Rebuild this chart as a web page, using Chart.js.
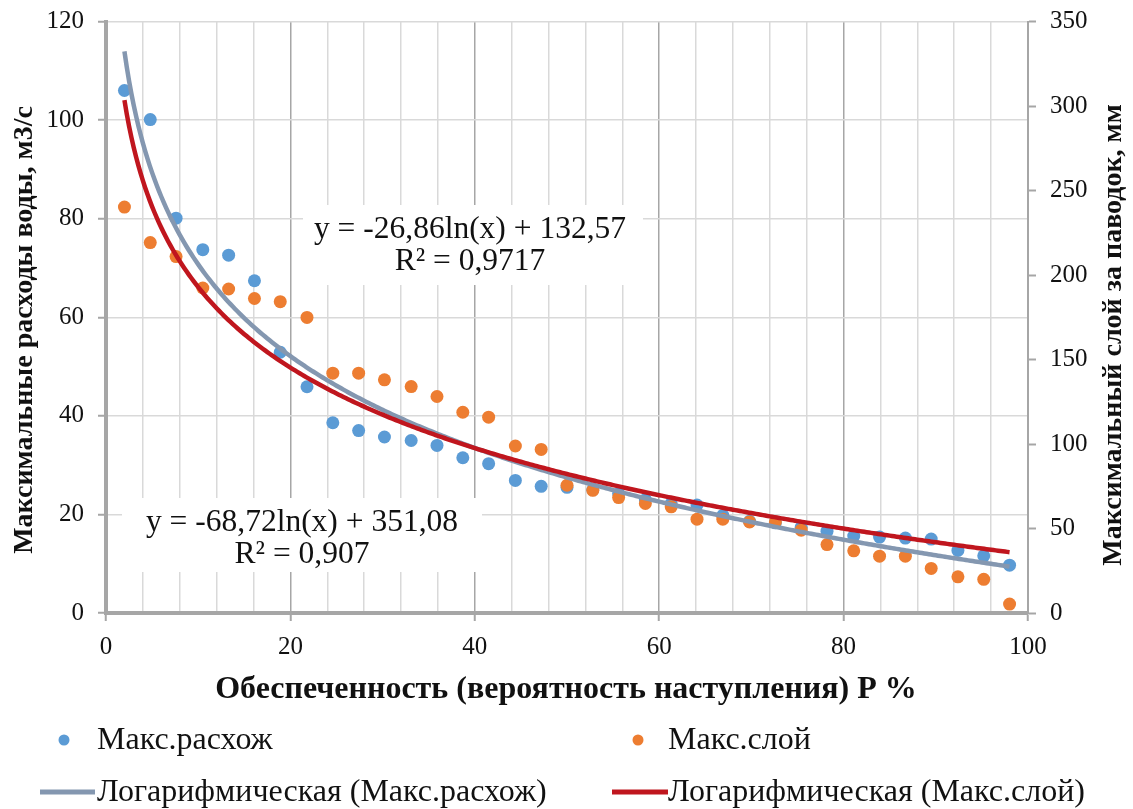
<!DOCTYPE html>
<html>
<head>
<meta charset="utf-8">
<script src="https://cdn.jsdelivr.net/npm/chart.js@4.4.1/dist/chart.umd.min.js"></script>
<style>
  html, body { margin: 0; padding: 0; background: #fff; }
  #wrap { width: 1133px; height: 809px; position: relative; }
</style>
</head>
<body>
<div id="wrap"><canvas id="chart"></canvas></div>
<script>
// обеспеченность P, %
const pValues = [2.0, 4.8, 7.6, 10.5, 13.3, 16.1, 18.9, 21.8, 24.6, 27.4, 30.2, 33.1, 35.9, 38.7, 41.5, 44.4, 47.2, 50.0,
    52.8, 55.6, 58.5, 61.3, 64.1, 66.9, 69.8, 72.6, 75.4, 78.2, 81.1, 83.9, 86.7, 89.5, 92.4, 95.2, 98.0];
// максимальные расходы, м3/с (левая ось)
const maxFlow = [106.0, 100.1, 80.1, 73.7, 72.6, 67.4, 52.9, 45.9, 38.6, 37.0, 35.7, 35.0, 34.0, 31.5, 30.3, 26.9, 25.7, 25.5,
    25.0, 24.2, 23.0, 22.2, 21.9, 19.8, 18.6, 18.3, 17.4, 16.6, 15.6, 15.4, 15.2, 15.0, 12.7, 11.6, 9.7];
// максимальный слой, мм (правая ось)
const maxLayer = [240.2, 219.2, 210.9, 192.3, 191.7, 186.1, 184.2, 174.9, 141.9, 141.9, 138.0, 134.0, 128.1, 118.8, 115.9, 98.8, 96.8, 75.6,
    72.6, 68.3, 64.8, 62.8, 55.5, 55.5, 53.9, 53.9, 49.0, 40.5, 36.8, 33.6, 33.6, 26.4, 21.4, 19.9, 5.3];
// коэффициенты логарифмических линий тренда [a, b]: y = a*ln(x) + b
const flowTrend = [-26.86, 132.57];
const layerTrend = [-68.72, 351.08];
const flowLabel = ['y = -26,86ln(x) + 132,57', 'R² = 0,9717'];
const layerLabel = ['y = -68,72ln(x) + 351,08', 'R² = 0,907'];
const xTicks = [0, 20, 40, 60, 80, 100];

const SERIF = "'Liberation Serif', 'Times New Roman', serif";
const AXIS_GRAY = '#A6A6A6';
const GRID_GRAY = '#D9D9D9';
const BLUE = '#5B9BD5';
const ORANGE = '#ED7D31';
const TREND_GRAY = '#8497B0';
const TREND_RED = '#C0161E';

function trendPoints(coef) {
    const pts = [];
    const x0 = pValues[0], x1 = pValues[pValues.length - 1];
    for (let x = x0; x <= x1 + 1e-9; x += 0.25) {
        pts.push({ x: x, y: coef[0] * Math.log(x) + coef[1] });
    }
    return pts;
}

// подписи, легенда, заголовки осей
const decorations = {
    id: 'decorations',
    afterDraw(chart) {
        const ctx = chart.ctx;
        ctx.save();
        // уравнения трендов на белом фоне
        const boxes = [
            { text: flowLabel, x: 303, y: 205, w: 340, h: 80, cx: 470 },
            { text: layerLabel, x: 122, y: 498, w: 360, h: 74, cx: 302 }
        ];
        boxes.forEach(b => {
            ctx.fillStyle = '#fff';
            ctx.fillRect(b.x, b.y, b.w, b.h);
            ctx.fillStyle = '#111';
            ctx.font = '31.5px ' + SERIF;
            ctx.textAlign = 'center';
            ctx.textBaseline = 'middle';
            ctx.fillText(b.text[0], b.cx, b.y + 25);
            ctx.fillText(b.text[1], b.cx, b.y + 57);
        });

        // заголовки осей
        ctx.fillStyle = '#111';
        ctx.font = 'bold 32px ' + SERIF;
        ctx.textAlign = 'center';
        ctx.textBaseline = 'middle';
        ctx.fillText('Обеспеченность (вероятность наступления) Р %', 566, 690);

        ctx.font = 'bold 28px ' + SERIF;
        ctx.save();
        ctx.translate(25, 330);
        ctx.rotate(-Math.PI / 2);
        ctx.fillText('Максимальные расходы воды, м3/с', 0, 0);
        ctx.restore();
        ctx.save();
        ctx.translate(1114, 335);
        ctx.rotate(-Math.PI / 2);
        ctx.fillText('Максимальный слой за паводок, мм', 0, 0);
        ctx.restore();

        // легенда
        ctx.font = '32px ' + SERIF;
        ctx.textAlign = 'left';
        ctx.fillStyle = BLUE;
        ctx.beginPath(); ctx.arc(64, 740, 5.5, 0, Math.PI * 2); ctx.fill();
        ctx.fillStyle = ORANGE;
        ctx.beginPath(); ctx.arc(638, 740, 5.5, 0, Math.PI * 2); ctx.fill();
        ctx.lineWidth = 5;
        ctx.strokeStyle = TREND_GRAY;
        ctx.beginPath(); ctx.moveTo(40, 792); ctx.lineTo(95, 792); ctx.stroke();
        ctx.strokeStyle = TREND_RED;
        ctx.beginPath(); ctx.moveTo(612, 792); ctx.lineTo(668, 792); ctx.stroke();
        ctx.fillStyle = '#111';
        ctx.fillText('Макс.расхож', 97, 741);
        ctx.fillText('Макс.слой', 668, 741);
        ctx.fillText('Логарифмическая (Макс.расхож)', 97, 793);
        ctx.fillText('Логарифмическая (Макс.слой)', 668, 793);
        ctx.restore();
    }
};

const tickFont = { family: SERIF, size: 25 };
// у подписей вертикальных осей уменьшенная высота строки, чтобы область графика начиналась с y=20
const yTickFont = { family: SERIF, size: 25, lineHeight: 0.6 };

new Chart(document.getElementById('chart'), {
    type: 'scatter',
    data: {
        datasets: [{
            label: 'Макс.расхож',
            data: pValues.map((p, i) => ({ x: p, y: maxFlow[i] })),
            backgroundColor: BLUE,
            borderWidth: 0,
            pointRadius: 6.5,
            yAxisID: 'y',
            order: 4
        }, {
            label: 'Макс.слой',
            data: pValues.map((p, i) => ({ x: p, y: maxLayer[i] })),
            backgroundColor: ORANGE,
            borderWidth: 0,
            pointRadius: 6.5,
            yAxisID: 'y1',
            order: 3
        }, {
            label: 'Логарифмическая (Макс.расхож)',
            data: trendPoints(flowTrend),
            showLine: true,
            borderColor: TREND_GRAY,
            borderWidth: 4.5,
            pointRadius: 0,
            yAxisID: 'y',
            order: 2
        }, {
            label: 'Логарифмическая (Макс.слой)',
            data: trendPoints(layerTrend),
            showLine: true,
            borderColor: TREND_RED,
            borderWidth: 4.5,
            pointRadius: 0,
            yAxisID: 'y1',
            order: 1
        }]
    },
    options: {
        responsive: true,
        maintainAspectRatio: false,
        animation: false,
        layout: { padding: { top: 20, left: 0, right: 0, bottom: 0 } },
        plugins: {
            legend: { display: false },
            tooltip: { enabled: false }
        },
        scales: {
            x: {
                type: 'linear',
                min: 0,
                max: 100,
                afterFit(s) { s.height = 196; },
                ticks: {
                    stepSize: 4,
                    autoSkip: false,
                    maxRotation: 0,
                    padding: 11,
                    color: '#111',
                    font: tickFont,
                    callback: v => xTicks.includes(v) ? v : ''
                },
                grid: {
                    color: c => (c.tick && c.tick.value % 20 === 0) ? AXIS_GRAY : GRID_GRAY,
                    lineWidth: 1.5,
                    tickLength: 8,
                    tickWidth: 2,
                    tickColor: c => (c.tick && c.tick.value % 20 === 0) ? AXIS_GRAY : 'rgba(0,0,0,0)'
                },
                border: { color: AXIS_GRAY, width: 4 }
            },
            y: {
                position: 'left',
                min: 0,
                max: 120,
                afterFit(s) { s.width = 106; },
                ticks: { stepSize: 20, padding: 14, color: '#111', font: yTickFont },
                grid: { color: GRID_GRAY, lineWidth: 1.5, tickLength: 8, tickWidth: 2, tickColor: AXIS_GRAY },
                border: { color: AXIS_GRAY, width: 4 }
            },
            y1: {
                position: 'right',
                min: 0,
                max: 350,
                afterFit(s) { s.width = 105; },
                ticks: { stepSize: 50, padding: 14, color: '#111', font: yTickFont },
                grid: { drawOnChartArea: false, tickLength: 8, tickWidth: 2, tickColor: AXIS_GRAY },
                border: { color: AXIS_GRAY, width: 2 }
            }
        }
    },
    plugins: [decorations]
});
</script>
</body>
</html>
